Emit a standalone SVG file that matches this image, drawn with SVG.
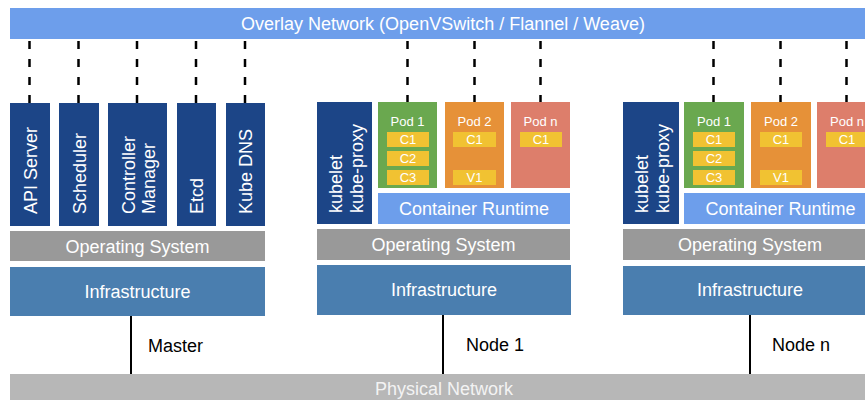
<svg xmlns="http://www.w3.org/2000/svg" width="865" height="400" viewBox="0 0 865 400">
  <style>
    text { font-family: "Liberation Sans", Arial, sans-serif; }
    .w18 { font-size: 18px; fill: #ffffff; }
    .w13 { font-size: 13px; fill: #ffffff; text-anchor: middle; }
    .mid { text-anchor: middle; }
    .lbl { font-size: 18px; fill: #000000; }
    .dark { fill: #1c4587; }
    .os { fill: #999999; }
    .infra { fill: #4a7eaf; }
    .light { fill: #6d9eeb; }
    .green { fill: #6aa84f; }
    .orange { fill: #e69138; }
    .salmon { fill: #dd7e6b; }
    .yellow { fill: #f1c232; }
    .dash { stroke: #000; stroke-width: 2.5; stroke-dasharray: 8 10; fill: none; }
    .solid { stroke: #000; stroke-width: 2; fill: none; }
  </style>

  <g id="overlay-network">
    <rect class="light" x="10" y="8" width="860" height="31"/>
    <text class="w18 mid" x="443" y="30">Overlay Network (OpenVSwitch / Flannel / Weave)</text>
  </g>

  <g id="physical-network">
    <rect x="10" y="374" width="860" height="30" fill="#b7b7b7"/>
    <text class="mid" x="444" y="395" font-size="18" fill="#f3f3f3">Physical Network</text>
  </g>

  <g id="connectors">
    <line class="dash" x1="29.5" y1="41" x2="29.5" y2="103"/>
    <line class="dash" x1="78.5" y1="41" x2="78.5" y2="103"/>
    <line class="dash" x1="137" y1="41" x2="137" y2="103"/>
    <line class="dash" x1="196" y1="41" x2="196" y2="103"/>
    <line class="dash" x1="245" y1="41" x2="245" y2="103"/>
    <line class="dash" x1="407.5" y1="41" x2="407.5" y2="103"/>
    <line class="dash" x1="474.5" y1="41" x2="474.5" y2="103"/>
    <line class="dash" x1="540.5" y1="41" x2="540.5" y2="103"/>
    <line class="dash" x1="713.5" y1="41" x2="713.5" y2="103"/>
    <line class="dash" x1="780.5" y1="41" x2="780.5" y2="103"/>
    <line class="dash" x1="846.5" y1="41" x2="846.5" y2="103"/>
    <line class="solid" x1="131" y1="316" x2="131" y2="374"/>
    <line class="solid" x1="443" y1="315" x2="443" y2="374"/>
    <line class="solid" x1="750" y1="315" x2="750" y2="374"/>
  </g>

  <!-- Master -->
  <g id="master">
    <g id="master-api-server">
      <rect class="dark" x="10" y="103" width="40" height="123"/>
      <text class="w18" transform="translate(36.5,214) rotate(-90)">API Server</text>
    </g>
    <g id="master-scheduler">
      <rect class="dark" x="59" y="103" width="40" height="123"/>
      <text class="w18" transform="translate(86,214) rotate(-90)">Scheduler</text>
    </g>
    <g id="master-controller-manager">
      <rect class="dark" x="108" y="103" width="59" height="123"/>
      <text class="w18" transform="translate(135,214) rotate(-90)">Controller</text>
      <text class="w18" transform="translate(154.5,214) rotate(-90)">Manager</text>
    </g>
    <g id="master-etcd">
      <rect class="dark" x="177" y="103" width="39" height="123"/>
      <text class="w18" transform="translate(203,214) rotate(-90)">Etcd</text>
    </g>
    <g id="master-kube-dns">
      <rect class="dark" x="226" y="103" width="39" height="123"/>
      <text class="w18" transform="translate(252,214) rotate(-90)">Kube DNS</text>
    </g>
    <g id="master-os">
      <rect class="os" x="10" y="231" width="255" height="30"/>
      <text class="w18 mid" x="137.5" y="253">Operating System</text>
    </g>
    <g id="master-infra">
      <rect class="infra" x="10" y="267" width="255" height="49"/>
      <text class="w18 mid" x="137.5" y="298">Infrastructure</text>
    </g>
    <text id="master-label" class="lbl" x="148" y="352">Master</text>
  </g>

  <!-- Node 1 -->
  <g id="node1">
    <g id="node1-kubelet">
      <rect class="dark" x="317" y="102" width="55" height="122"/>
      <text class="w18" transform="translate(342,213) rotate(-90)">kubelet</text>
      <text class="w18" transform="translate(362.5,213) rotate(-90)">kube-proxy</text>
    </g>
    <g id="node1-pod1">
      <rect class="green" x="378" y="102" width="59" height="86"/>
      <text class="w13" x="407.5" y="126">Pod 1</text>
      <rect class="yellow" x="387" y="132" width="42" height="15"/>
      <text class="w13" x="408" y="144">C1</text>
      <rect class="yellow" x="387" y="151" width="42" height="15"/>
      <text class="w13" x="408" y="163">C2</text>
      <rect class="yellow" x="387" y="170" width="42" height="15"/>
      <text class="w13" x="408" y="182">C3</text>
    </g>
    <g id="node1-pod2">
      <rect class="orange" x="445" y="102" width="59" height="86"/>
      <text class="w13" x="474.5" y="126">Pod 2</text>
      <rect class="yellow" x="453" y="132" width="43" height="15"/>
      <text class="w13" x="474.5" y="144">C1</text>
      <rect class="yellow" x="453" y="170" width="43" height="15"/>
      <text class="w13" x="474.5" y="182">V1</text>
    </g>
    <g id="node1-podn">
      <rect class="salmon" x="511" y="102" width="59" height="86"/>
      <text class="w13" x="540.5" y="126">Pod n</text>
      <rect class="yellow" x="520" y="132" width="42" height="15"/>
      <text class="w13" x="541" y="144">C1</text>
    </g>
    <g id="node1-runtime">
      <rect class="light" x="378" y="193" width="192" height="31"/>
      <text class="w18 mid" x="474" y="215">Container Runtime</text>
    </g>
    <g id="node1-os">
      <rect class="os" x="317" y="229" width="253" height="31"/>
      <text class="w18 mid" x="443.5" y="251">Operating System</text>
    </g>
    <g id="node1-infra">
      <rect class="infra" x="317" y="265" width="254" height="50"/>
      <text class="w18 mid" x="444" y="296">Infrastructure</text>
    </g>
    <text id="node1-label" class="lbl" x="466" y="351">Node 1</text>
  </g>

  <!-- Node n -->
  <g id="noden">
    <g id="noden-kubelet">
      <rect class="dark" x="623" y="102" width="56" height="122"/>
      <text class="w18" transform="translate(648,213) rotate(-90)">kubelet</text>
      <text class="w18" transform="translate(668.5,213) rotate(-90)">kube-proxy</text>
    </g>
    <g id="noden-pod1">
      <rect class="green" x="684" y="102" width="60" height="86"/>
      <text class="w13" x="714" y="126">Pod 1</text>
      <rect class="yellow" x="693" y="132" width="42" height="15"/>
      <text class="w13" x="714" y="144">C1</text>
      <rect class="yellow" x="693" y="151" width="42" height="15"/>
      <text class="w13" x="714" y="163">C2</text>
      <rect class="yellow" x="693" y="170" width="42" height="15"/>
      <text class="w13" x="714" y="182">C3</text>
    </g>
    <g id="noden-pod2">
      <rect class="orange" x="751" y="102" width="60" height="86"/>
      <text class="w13" x="781" y="126">Pod 2</text>
      <rect class="yellow" x="760" y="132" width="42" height="15"/>
      <text class="w13" x="781" y="144">C1</text>
      <rect class="yellow" x="760" y="170" width="42" height="15"/>
      <text class="w13" x="781" y="182">V1</text>
    </g>
    <g id="noden-podn">
      <rect class="salmon" x="817" y="102" width="60" height="86"/>
      <text class="w13" x="847" y="126">Pod n</text>
      <rect class="yellow" x="826" y="132" width="42" height="15"/>
      <text class="w13" x="847" y="144">C1</text>
    </g>
    <g id="noden-runtime">
      <rect class="light" x="684" y="193" width="193" height="31"/>
      <text class="w18 mid" x="780.5" y="215">Container Runtime</text>
    </g>
    <g id="noden-os">
      <rect class="os" x="623" y="229" width="254" height="31"/>
      <text class="w18 mid" x="750" y="251">Operating System</text>
    </g>
    <g id="noden-infra">
      <rect class="infra" x="623" y="266" width="254" height="49"/>
      <text class="w18 mid" x="750" y="296">Infrastructure</text>
    </g>
    <text id="noden-label" class="lbl" x="772" y="351">Node n</text>
  </g>
</svg>
